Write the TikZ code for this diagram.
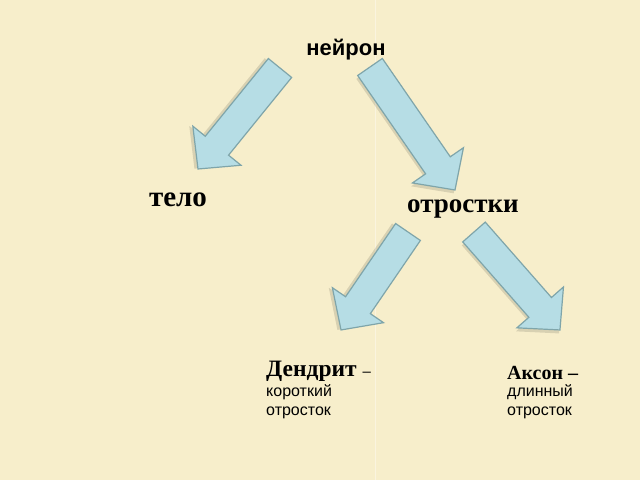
\documentclass[tikz,border=0pt]{standalone}
\usepackage{fontspec}
\setmainfont{Liberation Serif}
\newfontfamily\sansf{Liberation Sans}
\definecolor{bg}{HTML}{F7EECB}
\definecolor{arrfill}{HTML}{B6DDE5}
\definecolor{arrline}{HTML}{7FA5AA}
\newcommand{\blockarr}[5]{%
 \pgfmathsetmacro\dx{#3-#1}\pgfmathsetmacro\dy{(480-#4)-(480-#2)}%
 \pgfmathsetmacro\ang{atan2(\dy,\dx)}\pgfmathsetmacro\len{veclen(\dx,\dy)}%
 \begin{scope}[shift={(#1,480-#2)},rotate=\ang]
  \fill[black,opacity=0.12,shift={(2,-3)}] (0,15)--(\len-30,15)--(\len-30,31)--(\len,0)--(\len-30,-31)--(\len-30,-15)--(0,-15)--cycle;
  \draw[arrstyle] (0,15)--(\len-30,15)--(\len-30,31)--(\len,0)--(\len-30,-31)--(\len-30,-15)--(0,-15)--cycle;
  \coordinate (#5) at (\len,0);
 \end{scope}}
\begin{document}
\begin{tikzpicture}[x=1pt,y=1pt,arrstyle/.style={fill=arrfill,draw=arrline,line width=1.2pt,line join=miter}]
\fill[bg] (0,0) rectangle (640,480);
\useasboundingbox (0,0) rectangle (640,480);
\draw[white,opacity=0.4,line width=1pt] (375,0)--(375,480);
\node[font=\sansf\bfseries\fontsize{22}{24}\selectfont] (neuron) at (346,430) {нейрон};
\node[font=\bfseries\fontsize{29}{32}\selectfont] (telo) at (178,280) {тело};
\node[font=\bfseries\fontsize{27}{30}\selectfont] (otr) at (463,271) {отростки};
\blockarr{280}{68}{198}{169}{a1}
\blockarr{370}{67}{455}{190}{a2}
\blockarr{408}{232}{341}{330}{a3}
\blockarr{474}{232}{560}{330}{a4}
\node[anchor=west,font=\bfseries\fontsize{23.5}{26}\selectfont,inner sep=0] (dend) at (266,109) {Дендрит \mdseries\sansf\fontsize{15}{16}\selectfont –};
\node[anchor=north west,align=left,inner sep=0,font=\sansf\fontsize{16}{19}\selectfont] (dtxt) at (266,96) {короткий\\отросток};
\node[anchor=west,font=\bfseries\fontsize{20}{22}\selectfont,inner sep=0] (akson) at (507,107) {Аксон –};
\node[anchor=north west,align=left,inner sep=0,font=\sansf\fontsize{16}{19}\selectfont] (atxt) at (507,96) {длинный\\отросток};
\end{tikzpicture}
\end{document}
